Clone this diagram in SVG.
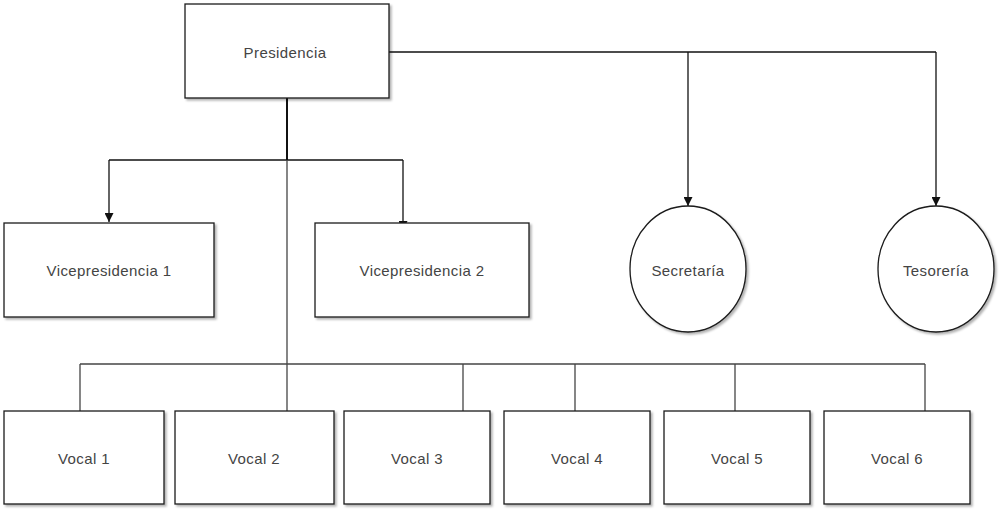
<svg xmlns="http://www.w3.org/2000/svg" width="1001" height="512" viewBox="0 0 1001 512">
<style>
.box{fill:#fff;stroke:#1a1a1a;stroke-width:1.3;filter:url(#sh)}
.lbl{font-family:"Liberation Sans",Arial,sans-serif;font-size:15px;letter-spacing:0.4px;fill:#444;text-anchor:middle;dominant-baseline:central}
.ln{fill:none;stroke:#111;stroke-width:1.3}
.bus{fill:none;stroke:#444;stroke-width:1.3}
</style>
<defs>
<filter id="sh" x="-10%" y="-10%" width="125%" height="125%">
<feDropShadow dx="2" dy="2" stdDeviation="1.2" flood-color="#000" flood-opacity="0.3"/>
</filter>
<marker id="arr" viewBox="0 0 10 10" refX="10" refY="5" markerWidth="9" markerHeight="9" markerUnits="userSpaceOnUse" orient="auto">
<path d="M0,0 L10,5 L0,10 Z" fill="#111"/>
</marker>
</defs>
<g id="connectors">
<path class="ln" d="M287,98 V160" style="stroke-width:2"/>
<path class="ln" d="M109,160 H403" />
<path class="ln" d="M109,160 V222" marker-end="url(#arr)"/>
<path class="ln" d="M403,160 V230" marker-end="url(#arr)"/>
<path class="ln" d="M389,52 H936"/>
<path class="ln" d="M688,52 V206" marker-end="url(#arr)"/>
<path class="ln" d="M936,52 V206" marker-end="url(#arr)"/>
<path class="bus" d="M287,160 V411"/>
<path class="bus" d="M80,364 H925"/>
<path class="bus" d="M80,364 V411"/>
<path class="bus" d="M463,364 V411"/>
<path class="bus" d="M575,364 V411"/>
<path class="bus" d="M735,364 V411"/>
<path class="bus" d="M925,364 V411"/>
</g>
<g id="presidencia"><rect class="box" x="185" y="4" width="204" height="94"/><text class="lbl" x="285" y="52">Presidencia</text></g>
<g id="vice1"><rect class="box" x="4" y="223" width="210" height="94"/><text class="lbl" x="109" y="270">Vicepresidencia 1</text></g>
<g id="vice2"><rect class="box" x="315" y="223" width="214" height="94"/><text class="lbl" x="422" y="270">Vicepresidencia 2</text></g>
<g id="secretaria"><ellipse class="box" cx="688" cy="269" rx="58" ry="63"/><text class="lbl" x="688" y="270">Secretaría</text></g>
<g id="tesoreria"><ellipse class="box" cx="936" cy="269" rx="58" ry="63"/><text class="lbl" x="936" y="270">Tesorería</text></g>
<g id="vocal1"><rect class="box" x="4" y="411" width="160" height="93"/><text class="lbl" x="84" y="458">Vocal 1</text></g>
<g id="vocal2"><rect class="box" x="175" y="411" width="159" height="93"/><text class="lbl" x="254" y="458">Vocal 2</text></g>
<g id="vocal3"><rect class="box" x="344" y="411" width="146" height="93"/><text class="lbl" x="417" y="458">Vocal 3</text></g>
<g id="vocal4"><rect class="box" x="504" y="411" width="146" height="93"/><text class="lbl" x="577" y="458">Vocal 4</text></g>
<g id="vocal5"><rect class="box" x="664" y="411" width="146" height="93"/><text class="lbl" x="737" y="458">Vocal 5</text></g>
<g id="vocal6"><rect class="box" x="824" y="411" width="146" height="93"/><text class="lbl" x="897" y="458">Vocal 6</text></g>
</svg>
